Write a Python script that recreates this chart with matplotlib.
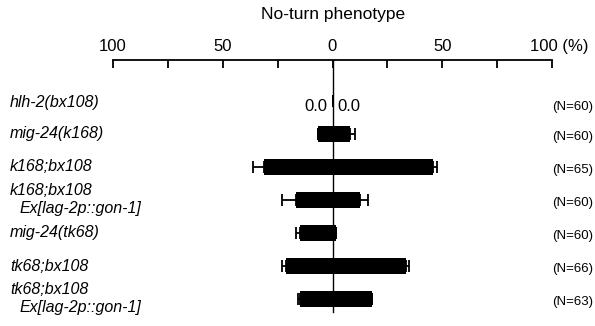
import matplotlib
matplotlib.use("Agg")
import matplotlib.pyplot as plt
from matplotlib.transforms import blended_transform_factory, ScaledTranslation

plt.rcParams['font.family'] = ['Liberation Sans', 'DejaVu Sans']

# strains, top to bottom (second line of the label, if any)
strains = ['hlh-2(bx108)', 'mig-24(k168)', 'k168;bx108', 'k168;bx108',
           'mig-24(tk68)', 'tk68;bx108', 'tk68;bx108']
subline = ['', '', '', 'Ex[lag-2p::gon-1]', '', '', 'Ex[lag-2p::gon-1]']
counts = ['(N=60)', '(N=60)', '(N=65)', '(N=60)', '(N=60)', '(N=66)', '(N=63)']

# left side bar (%) and its error, right side bar (%) and its error
left_vals = [0.0, 6.8, 31.1, 16.7, 14.6, 21.0, 14.6]
left_err = [0.0, 0.0, 5.0, 6.4, 2.1, 2.0, 1.0]
right_vals = [0.0, 7.9, 46.0, 12.6, 1.7, 33.4, 17.9]
right_err = [0.0, 2.3, 1.4, 3.8, 0.0, 1.5, 0.3]

ticks = [-100, -75, -50, -25, 0, 25, 50, 75, 100]
ticklabels = ['100', '', '50', '', '0', '', '50', '', '100 (%)']

fig = plt.figure(figsize=(5.95, 3.26), dpi=100)
ax = fig.add_axes([113 / 595, 0, 439 / 595, 1 - 60 / 326])

rows = list(range(len(strains)))
bh = 0.485
neg = [-v for v in left_vals]
ax.barh(rows, neg, height=bh, color='black', zorder=2)
ax.barh(rows, right_vals, height=bh, color='black', zorder=2)
ax.errorbar(neg, rows, xerr=[left_err, [0] * len(rows)], fmt='none',
            ecolor='black', elinewidth=1.3, capsize=4, capthick=1.3, zorder=3)
ax.errorbar(right_vals, rows, xerr=[[0] * len(rows), right_err], fmt='none',
            ecolor='black', elinewidth=1.3, capsize=4, capthick=1.3, zorder=3)

ax.set_xlim(-100, 100)
ax.set_ylim(6.818, -1.242)

# centre line
ax.plot([0, 0], [-1.242, 6.4], color='black', lw=1.0, zorder=1)

for s in ['left', 'right', 'bottom']:
    ax.spines[s].set_visible(False)
ax.spines['top'].set_linewidth(1.3)
ax.xaxis.tick_top()
ax.set_xticks(ticks)
ax.set_xticklabels(ticklabels, fontsize=12)
ax.tick_params(axis='x', direction='in', length=6, width=1.3, pad=4)
ax.tick_params(axis='y', left=False, labelleft=False)

# "100 (%)" starts a little left of its tick
lab = ax.get_xticklabels()[-1]
lab.set_horizontalalignment('left')
lab.set_transform(lab.get_transform() + ScaledTranslation(-0.22, 0, fig.dpi_scale_trans))

fig.text(333 / 595, 1 - 15 / 326, 'No-turn phenotype', fontsize=12.5,
         ha='center', va='center')

# zero values for the first strain
ax.text(-2.2, 0.18, '%.1f' % left_vals[0], fontsize=12, ha='right', va='center')
ax.text(2.2, 0.18, '%.1f' % right_vals[0], fontsize=12, ha='left', va='center')

trans = blended_transform_factory(fig.transFigure, ax.transData)
for i in rows:
    if subline[i]:
        ax.text(10 / 595, i - 0.3, strains[i], fontsize=11.5, style='italic',
                ha='left', va='center', transform=trans)
        ax.text(20 / 595, i + 0.25, subline[i], fontsize=11.5, style='italic',
                ha='left', va='center', transform=trans)
    else:
        ax.text(10 / 595, i + (0.06 if i == 0 else 0), strains[i], fontsize=11.5,
                style='italic', ha='left', va='center', transform=trans)
    ax.text(593 / 595, i + (0.18 if i == 0 else 0.1), counts[i], fontsize=9.5,
            ha='right', va='center', transform=trans)

fig.savefig('out.png', dpi=100)
